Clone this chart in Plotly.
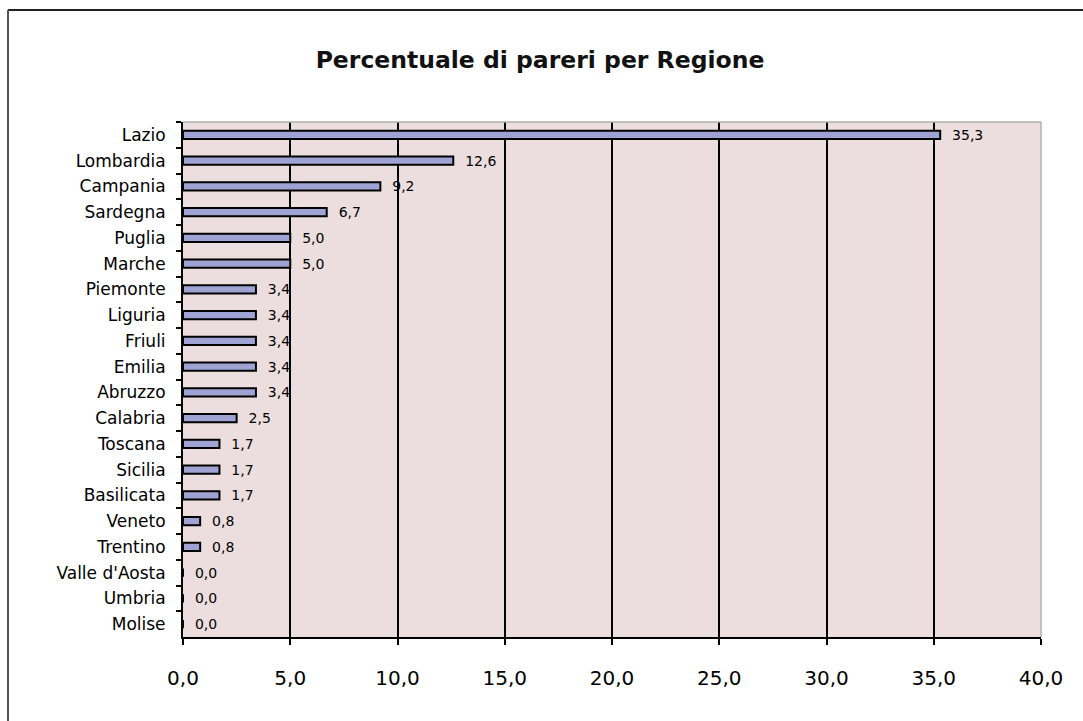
import plotly.graph_objects as go

regions = ["Lazio", "Lombardia", "Campania", "Sardegna", "Puglia", "Marche",
           "Piemonte", "Liguria", "Friuli", "Emilia", "Abruzzo", "Calabria",
           "Toscana", "Sicilia", "Basilicata", "Veneto", "Trentino",
           "Valle d'Aosta", "Umbria", "Molise"]
values = [35.3, 12.6, 9.2, 6.7, 5.0, 5.0, 3.4, 3.4, 3.4, 3.4, 3.4, 2.5,
          1.7, 1.7, 1.7, 0.8, 0.8, 0.0, 0.0, 0.0]
x_ticks = [0, 5, 10, 15, 20, 25, 30, 35, 40]

FONT = "DejaVu Sans, Liberation Sans, sans-serif"

fig = go.Figure(go.Bar(
    x=values, y=regions, orientation="h",
    marker=dict(color="#9ea3d3", line=dict(color="#000000", width=2)),
    text=values, texttemplate="  %{x:.1f}", textposition="outside",
    constraintext="none",
    textfont=dict(family=FONT, size=14, color="#000000"),
    outsidetextfont=dict(family=FONT, size=14, color="#000000"),
    cliponaxis=False, width=0.32,
))

L, R, T, B = 183, 42, 122, 84
W, H = 1083, 721
pw, ph = W - L - R, H - T - B

fig.update_layout(
    width=W, height=H,
    margin=dict(l=L, r=R, t=T, b=B),
    separators=",.",
    paper_bgcolor="#ffffff",
    plot_bgcolor="#ecdede",
    showlegend=False,
    title=dict(text="<b>Percentuale di pareri per Regione</b>",
               x=540 / W, xanchor="center", y=1 - 60 / H, yanchor="middle",
               font=dict(family=FONT, size=23.5, color="#111111")),
    font=dict(family=FONT, color="#000000"),
    xaxis=dict(range=[0, 40], tickvals=x_ticks, tickformat=".1f",
               showgrid=True, gridcolor="#000000", gridwidth=1.5,
               zeroline=False, showline=True, linecolor="#000000", linewidth=2,
               ticks="outside", ticklen=6, tickcolor="#000000", tickwidth=2,
               ticklabelstandoff=16,
               tickfont=dict(family=FONT, size=20, color="#000000")),
    yaxis=dict(autorange="reversed", showgrid=False, zeroline=False,
               showline=True, linecolor="#000000", linewidth=2,
               ticks="outside", ticklen=5, tickcolor="#000000", tickwidth=2,
               tickson="boundaries", ticklabelstandoff=12,
               tickfont=dict(family=FONT, size=17, color="#000000")),
    shapes=[
        dict(type="line", xref="paper", yref="paper", x0=0, x1=1, y0=1, y1=1,
             line=dict(color="#b0b0b0", width=1.5)),
        dict(type="line", xref="paper", yref="paper", x0=1, x1=1, y0=0, y1=1,
             line=dict(color="#b0b0b0", width=1.5)),
        dict(type="line", xref="paper", yref="paper",
             x0=(8 - L) / pw, x1=(W - L) / pw,
             y0=1 + (T - 10) / ph, y1=1 + (T - 10) / ph,
             line=dict(color="#222222", width=2)),
        dict(type="line", xref="paper", yref="paper",
             x0=(8 - L) / pw, x1=(8 - L) / pw,
             y0=1 + (T - 10) / ph, y1=-(B) / ph,
             line=dict(color="#555555", width=2)),
    ],
)

fig.write_html("out.html")
